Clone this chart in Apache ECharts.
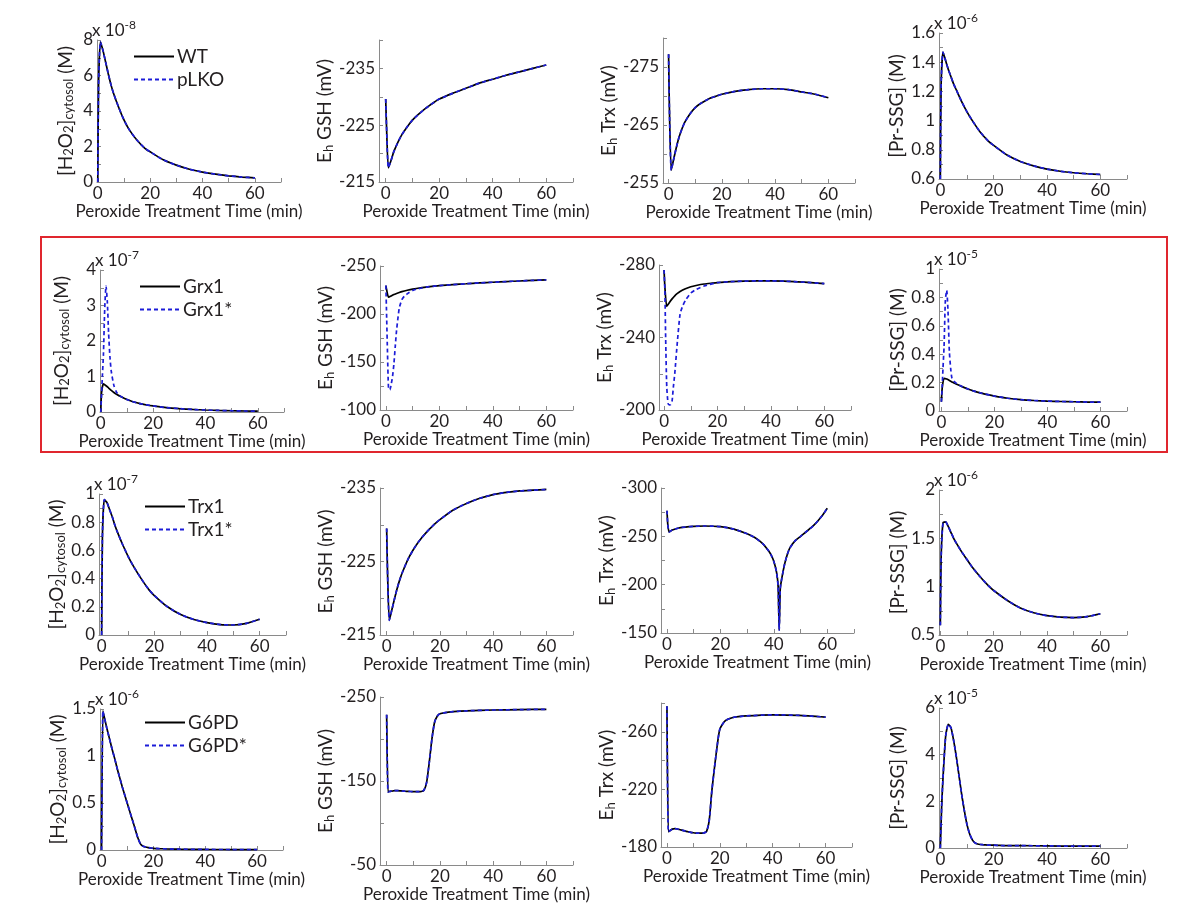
<!DOCTYPE html>
<html>
<head>
<meta charset="utf-8">
<script src="https://cdn.jsdelivr.net/npm/echarts@6/dist/echarts.min.js"></script>
<style>html,body{margin:0;background:#fff}#main{width:1200px;height:909px}</style>
</head>
<body>
<div id="main"></div>
<script>
// time grids (min)
var tBase = [0, 0.3, 1, 2, 3, 4, 5, 6, 8, 10, 12, 15, 18, 20, 25, 30, 35, 40, 45, 50, 55, 60];
var tSpike = [0, 0.3, 0.6, 1, 1.5, 2, 2.5, 3, 3.5, 4, 5, 6, 7, 8, 10, 12, 15, 20, 25, 30, 35, 40, 45, 50, 55, 60];
var tTrxR3 = [0, 0.3, 0.8, 2, 5, 10, 14, 20, 25, 30, 33, 36, 38, 39, 40, 41, 41.6, 42, 42.4, 43, 44, 45, 46, 48, 50, 52, 55, 58, 60];
var tG6 = [0, 0.5, 1, 2, 3, 4, 5, 6, 7, 8, 9, 10, 11, 12, 13, 14, 15, 16, 17, 18, 19, 20, 22, 25, 30, 40, 50, 60];

// row 1 : WT / pLKO (curves coincide)
var h2o2WT = [0, 5.5, 7.9, 7.4, 6.75, 6.1, 5.5, 5.0, 4.2, 3.5, 2.95, 2.35, 1.9, 1.7, 1.25, 0.95, 0.72, 0.56, 0.44, 0.35, 0.28, 0.23]; // x1e-8
var gshWT = [-229.6, -225, -217.5, -218.8, -220.3, -221.4, -222.4, -223.3, -224.7, -225.9, -226.8, -228.0, -229.0, -229.6, -230.6, -231.5, -232.4, -233.1, -233.8, -234.4, -235.0, -235.6];
var trxWT = [-277.2, -268, -257.2, -259.3, -261.3, -263.0, -264.3, -265.4, -266.9, -268.0, -268.7, -269.5, -270.0, -270.3, -270.8, -271.1, -271.25, -271.25, -271.1, -270.7, -270.3, -269.7];
var prssgWT = [0.6, 1.25, 1.47, 1.41, 1.35, 1.30, 1.25, 1.21, 1.13, 1.06, 1.0, 0.92, 0.86, 0.83, 0.764, 0.72, 0.69, 0.668, 0.653, 0.643, 0.636, 0.631]; // x1e-6

// row 2 : Grx1 (tBase) / Grx1* (tSpike)
var h2o2Grx1 = [0, 0.55, 0.79, 0.74, 0.675, 0.61, 0.55, 0.5, 0.42, 0.35, 0.295, 0.235, 0.19, 0.17, 0.125, 0.095, 0.072, 0.056, 0.044, 0.035, 0.028, 0.023]; // x1e-7
var h2o2Grx1s = [0, 0.5, 1.0, 1.6, 2.9, 3.55, 3.1, 2.2, 1.55, 1.15, 0.75, 0.56, 0.47, 0.42, 0.35, 0.295, 0.235, 0.17, 0.125, 0.095, 0.072, 0.056, 0.044, 0.035, 0.028, 0.023];
var gshGrx1 = [-229.6, -225, -217.5, -218.8, -220.3, -221.4, -222.4, -223.3, -224.7, -225.9, -226.8, -228.0, -229.0, -229.6, -230.6, -231.5, -232.4, -233.1, -233.8, -234.4, -235.0, -235.6];
var gshGrx1s = [-229.6, -195, -160, -122, -121, -127, -135, -148, -166, -183, -206, -215, -218.8, -221, -224.5, -226.3, -228.0, -229.6, -230.6, -231.5, -232.4, -233.1, -233.8, -234.4, -235.0, -235.6];
var trxGrx1 = [-277.2, -268, -257.2, -259.3, -261.3, -263.0, -264.3, -265.4, -266.9, -268.0, -268.7, -269.5, -270.0, -270.3, -270.8, -271.1, -271.25, -271.25, -271.1, -270.7, -270.3, -269.7];
var trxGrx1s = [-277.2, -266, -239, -213, -203.5, -202.8, -203, -205, -213, -220, -238, -253, -257.5, -260.5, -264.5, -266.5, -268.4, -270.3, -270.8, -271.1, -271.25, -271.25, -271.1, -270.7, -270.3, -269.7];
var prssgGrx1 = [0.065, 0.16, 0.23, 0.225, 0.215, 0.205, 0.195, 0.186, 0.17, 0.155, 0.142, 0.126, 0.113, 0.105, 0.09, 0.08, 0.074, 0.07, 0.067, 0.065, 0.063, 0.062]; // x1e-5
var prssgGrx1s = [0.065, 0.17, 0.3, 0.45, 0.78, 0.85, 0.7, 0.42, 0.3, 0.23, 0.205, 0.19, 0.18, 0.17, 0.155, 0.142, 0.126, 0.105, 0.09, 0.08, 0.074, 0.07, 0.067, 0.065, 0.063, 0.062];

// row 3 : Trx1 / Trx1* (curves coincide)
var h2o2Trx1 = [0, 0.7, 0.96, 0.94, 0.89, 0.84, 0.78, 0.73, 0.64, 0.56, 0.49, 0.40, 0.32, 0.28, 0.20, 0.145, 0.11, 0.088, 0.074, 0.071, 0.083, 0.112]; // x1e-7
var gshTrx1 = [-229.5, -224, -217, -218.5, -220, -221.4, -222.6, -223.6, -225.3, -226.6, -227.7, -229.0, -230.1, -230.7, -232.0, -232.9, -233.6, -234.1, -234.4, -234.6, -234.7, -234.8];
var trxTrx1 = [-276.5, -262, -254.5, -256.5, -259, -260.3, -260.7, -260, -257.5, -252.7, -248.5, -242, -235, -230.5, -224, -213, -198, -153, -196, -207, -221, -231, -238, -245.5, -250, -254.5, -261.5, -271, -279];
var prssgTrx1 = [0.6, 1.3, 1.66, 1.67, 1.62, 1.56, 1.5, 1.45, 1.36, 1.28, 1.2, 1.1, 1.01, 0.96, 0.86, 0.78, 0.73, 0.7, 0.685, 0.68, 0.69, 0.72]; // x1e-6

// row 4 : G6PD / G6PD* (curves coincide)
var h2o2G6PD = [0, 1.48, 1.42, 1.3, 1.19, 1.08, 0.98, 0.87, 0.77, 0.67, 0.58, 0.49, 0.4, 0.31, 0.22, 0.13, 0.065, 0.04, 0.032, 0.026, 0.021, 0.018, 0.015, 0.012, 0.009, 0.006, 0.005, 0.004]; // x1e-6
var gshG6PD = [-229, -137, -137.5, -138, -138.5, -138.5, -138.3, -138, -137.8, -137.6, -137.5, -137.4, -137.3, -137.3, -137.5, -139, -148, -172, -200, -220, -227, -230, -231.5, -232.5, -233.5, -234.5, -235, -235.3];
var trxG6PD = [-277.7, -190.6, -191.2, -192.4, -192.8, -192.5, -192, -191.5, -191, -190.6, -190.2, -189.9, -189.7, -189.6, -189.6, -189.8, -190.8, -198.5, -219.3, -235.4, -250.3, -261.8, -267.6, -269.9, -271, -271.8, -271.4, -270.2];
var prssgG6PD = [0, 1.8, 3.0, 4.8, 5.3, 5.15, 4.6, 3.9, 3.1, 2.3, 1.6, 1.0, 0.6, 0.35, 0.22, 0.17, 0.15, 0.14, 0.13, 0.125, 0.12, 0.12, 0.11, 0.1, 0.1, 0.09, 0.08, 0.08]; // x1e-5

// axis ticks / labels
var xTicks = [0, 10, 20, 30, 40, 50, 60, 70];
var xLabels = [0, 20, 40, 60];

var yNames = {
    h2o2: '{b|[H}{s|2}{b|O}{s|2}{b|]}{s|cytosol}{b| (M)}',
    gsh: '{b|E}{s|h}{b| GSH (mV)}',
    trx: '{b|E}{s|h}{b| Trx (mV)}',
    prssg: '{b|[Pr-SSG] (M)}'
};

function pairs(t, v) {
    return t.map(function (x, i) { return [x, v[i]]; });
}

var panels = [
    {g: [97, 40, 184, 142], xMin: -0.3, y: [0, 8, 1], yl: [0, 2, 4, 6, 8], yn: 'h2o2', gap: 15, mult: '-8',
        k: [tBase, h2o2WT], b: [tBase, h2o2WT], leg: ['WT', 'pLKO', 133, 47]},
    {g: [379, 40, 194, 142], xMin: -2.5, y: [-240, -215, 5], inv: true, yl: [-235, -225, -215], yn: 'gsh', gap: 23,
        k: [tBase, gshWT], b: [tBase, gshWT]},
    {g: [663, 38, 192, 145], xMin: -2.1, y: [-280, -255, 5], inv: true, yl: [-275, -265, -255], yn: 'trx', gap: 27,
        k: [tBase, trxWT], b: [tBase, trxWT]},
    {g: [939, 33, 188, 146], xMin: -0.5, y: [0.6, 1.6, 0.1], yl: [0.6, 0.8, 1, 1.2, 1.4, 1.6], yn: 'prssg', gap: 38, mult: '-6',
        k: [tBase, prssgWT], b: [tBase, prssgWT]},

    {g: [100, 270, 184, 142], xMin: -0.3, y: [0, 4, 0.5], yl: [0, 1, 2, 3, 4], yn: 'h2o2', gap: 22, mult: '-7',
        k: [tBase, h2o2Grx1], b: [tSpike, h2o2Grx1s], leg: ['Grx1', 'Grx1*', 139, 277]},
    {g: [380, 266, 193, 144], xMin: -2.2, y: [-250, -100, 25], inv: true, yl: [-250, -200, -150, -100], yn: 'gsh', gap: 24,
        k: [tBase, gshGrx1], b: [tSpike, gshGrx1s]},
    {g: [659, 265, 192, 145], xMin: -1.9, y: [-280, -200, 20], inv: true, yl: [-280, -240, -200], yn: 'trx', gap: 26,
        k: [tBase, trxGrx1], b: [tSpike, trxGrx1s]},
    {g: [939, 269, 188, 142], xMin: -0.9, y: [0, 1, 0.1], yl: [0, 0.2, 0.4, 0.6, 0.8, 1], yn: 'prssg', gap: 37, mult: '-5',
        k: [tBase, prssgGrx1], b: [tSpike, prssgGrx1s]},

    {g: [99, 494, 187, 141], xMin: -1, y: [0, 1, 0.1], yl: [0, 0.2, 0.4, 0.6, 0.8, 1], yn: 'h2o2', gap: 22, mult: '-7',
        k: [tBase, h2o2Trx1], b: [tBase, h2o2Trx1], leg: ['Trx1', 'Trx1*', 144, 497]},
    {g: [380, 488, 193, 147], xMin: -2.5, y: [-235, -215, 5], inv: true, yl: [-235, -225, -215], yn: 'gsh', gap: 24,
        k: [tBase, gshTrx1], b: [tBase, gshTrx1]},
    {g: [661, 488, 193, 145], xMin: -2.25, y: [-300, -150, 25], inv: true, yl: [-300, -250, -200, -150], yn: 'trx', gap: 29,
        k: [tTrxR3, trxTrx1], b: [tTrxR3, trxTrx1]},
    {g: [939, 490, 188, 145], xMin: -0.5, y: [0.5, 2, 0.25], yl: [0.5, 1, 1.5, 2], yn: 'prssg', gap: 37, mult: '-6',
        k: [tBase, prssgTrx1], b: [tBase, prssgTrx1]},

    {g: [100, 709, 183, 141], xMin: -0.6, y: [0, 1.5, 0.25], yl: [0, 0.5, 1, 1.5], yn: 'h2o2', gap: 24, mult: '-6',
        k: [tG6, h2o2G6PD], b: [tG6, h2o2G6PD], leg: ['G6PD', 'G6PD*', 144, 713]},
    {g: [380, 697, 193, 168], xMin: -2.5, y: [-250, -50, 50], inv: true, yl: [-250, -150, -50], yn: 'gsh', gap: 24,
        k: [tG6, gshG6PD], b: [tG6, gshG6PD]},
    {g: [661, 703, 191, 144], xMin: -2.25, y: [-280, -180, 20], inv: true, yl: [-260, -220, -180], yn: 'trx', gap: 29,
        k: [tG6, trxG6PD], b: [tG6, trxG6PD]},
    {g: [939, 708, 188, 140], xMin: -0.5, y: [0, 6, 1], yl: [0, 2, 4, 6], yn: 'prssg', gap: 37, mult: '-5',
        k: [tG6, prssgG6PD], b: [tG6, prssgG6PD]}
];

var FONT = 'Lato';
var INK = '#231f20';
var AXIS = '#8a8a8a';

var dom = document.getElementById('main');
var myChart = echarts.init(dom);

var grids = [], xAxes = [], yAxes = [], series = [], legends = [], graphics = [];

panels.forEach(function (p, i) {
    grids.push({left: p.g[0], top: p.g[1], width: p.g[2], height: p.g[3]});

    xAxes.push({
        gridIndex: i, type: 'value', min: p.xMin, max: 70,
        axisLine: {onZero: false, lineStyle: {color: AXIS, width: 1}},
        axisTick: {inside: true, length: 4, customValues: xTicks, lineStyle: {color: AXIS}},
        axisLabel: {customValues: xLabels, fontSize: 17, color: INK, margin: 3, fontFamily: FONT},
        splitLine: {show: false},
        name: 'Peroxide Treatment Time (min)', nameLocation: 'middle', nameGap: 20,
        nameTextStyle: {fontSize: 17, color: INK, fontFamily: FONT}
    });

    var ticks = [];
    for (var v = p.y[0]; v <= p.y[1] + 1e-9; v += p.y[2]) ticks.push(+v.toFixed(4));
    yAxes.push({
        gridIndex: i, type: 'value', min: p.y[0], max: p.y[1], inverse: !!p.inv,
        axisLine: {show: true, onZero: false, lineStyle: {color: AXIS, width: 1}},
        axisTick: {show: true, inside: true, length: 4, customValues: ticks, lineStyle: {color: AXIS}},
        axisLabel: {customValues: p.yl, fontSize: 17, color: INK, margin: 4, fontFamily: FONT},
        splitLine: {show: false},
        name: yNames[p.yn], nameLocation: 'middle', nameRotate: 90, nameGap: p.gap,
        nameTextStyle: {
            color: INK, fontFamily: FONT, fontSize: 19,
            rich: {
                b: {fontSize: 19, fontFamily: FONT, color: INK, lineHeight: 14, verticalAlign: 'top'},
                s: {fontSize: 13, fontFamily: FONT, color: INK, lineHeight: 26}
            }
        }
    });

    var names = p.leg ? [p.leg[0], p.leg[1]] : ['k' + i, 'b' + i];
    series.push({
        name: names[0], type: 'line', xAxisIndex: i, yAxisIndex: i,
        data: pairs(p.k[0], p.k[1]), showSymbol: false, symbol: 'none', smooth: 0.2, z: 2,
        itemStyle: {color: '#000'},
        lineStyle: {color: '#000', width: 1.7}
    });
    series.push({
        name: names[1], type: 'line', xAxisIndex: i, yAxisIndex: i,
        data: pairs(p.b[0], p.b[1]), showSymbol: false, symbol: 'none', smooth: 0.2, z: 3,
        itemStyle: {color: '#1c1cd8'},
        lineStyle: {color: '#1c1cd8', width: 1.7, type: [4, 3]}
    });

    if (p.leg) {
        legends.push({
            data: [p.leg[0], p.leg[1]], orient: 'vertical', left: p.leg[2], top: p.leg[3],
            itemWidth: 40, itemHeight: 12, itemGap: 4, padding: 0, selectedMode: false,
            itemStyle: {opacity: 0},
            textStyle: {fontSize: 19, color: INK, fontFamily: FONT, padding: [0, 0, 0, -2]}
        });
    }

    if (p.mult) {
        graphics.push({
            type: 'text', left: p.g[0] - 5, top: p.g[1] - 21, z: 10,
            style: {
                text: '{b|x 10}{p|' + p.mult + '}',
                fill: INK,
                rich: {
                    b: {fontSize: 17, fontFamily: FONT, fill: INK, lineHeight: 24},
                    p: {fontSize: 12, fontFamily: FONT, fill: INK, lineHeight: 12, verticalAlign: 'top'}
                }
            }
        });
    }
});

// red frame round the second row
graphics.push({
    type: 'rect', shape: {x: 41, y: 237, width: 1126, height: 215}, z: 0,
    style: {fill: 'none', stroke: '#e0262e', lineWidth: 2}
});

option = {
    animation: false,
    backgroundColor: '#fff',
    textStyle: {fontFamily: FONT, color: INK},
    grid: grids,
    xAxis: xAxes,
    yAxis: yAxes,
    legend: legends,
    series: series,
    graphic: graphics
};

if (option && typeof option === "object") {
    myChart.setOption(option, true);
}
</script>
</body>
</html>
